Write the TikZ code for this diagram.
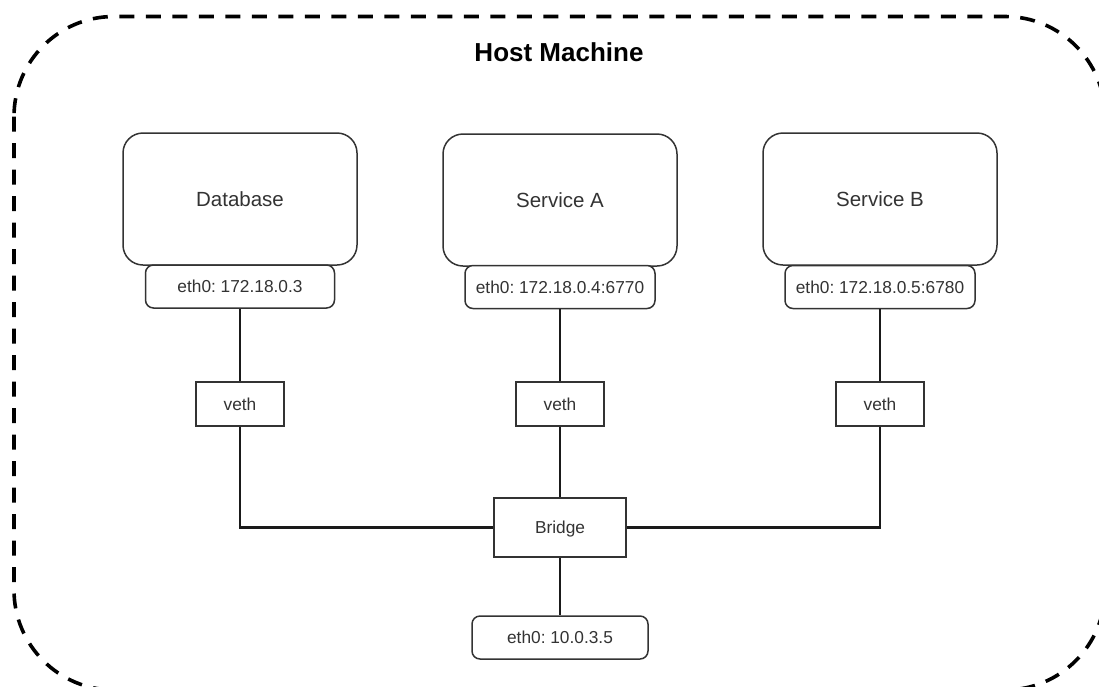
\documentclass[tikz,border=0pt]{standalone}
\usepackage{fontspec}
\setmainfont{Liberation Sans}
\frenchspacing
\definecolor{edge}{HTML}{333333}
\definecolor{ink}{HTML}{333333}
\definecolor{wire}{HTML}{1A1A1A}
\begin{document}
\begin{tikzpicture}[x=1pt,y=-1pt,
  box/.style={draw=edge, line width=1.5pt, fill=white, inner sep=0pt, text=ink,
    font=\fontsize{17.3}{20}\selectfont, text height=12.4pt, text depth=0pt},
  container/.style={box, rounded corners=20pt, minimum width=234pt, minimum height=132pt,
    font=\fontsize{20.5}{24}\selectfont, text height=14.7pt},
  iface/.style={box, rounded corners=8pt, minimum width=189pt, minimum height=43pt},
  vethbox/.style={box, minimum width=88pt, minimum height=44pt},
  bridgebox/.style={box, minimum width=132pt, minimum height=59pt},
  wireline/.style={draw=wire, line width=2.6pt},
  hostline/.style={draw=black, line width=3.6pt, dash pattern=on 15pt off 11.5pt, rounded corners=100pt}
]
\useasboundingbox (0,0) rectangle (1099,686);

% host boundary, partly cut off by the page edge
\begin{scope}
  \clip (0,0) rectangle (1099,686);
  \draw[hostline] (14,16.5) rectangle (1105,690);
\end{scope}
\node[anchor=base, font=\bfseries\fontsize{26}{30}\selectfont] (title) at (559,61.5) {Host Machine};

% containers
\node[container] (db) at (240,199) {Database};
\node[container] (sa) at (560,200) {Service A};
\node[container] (sb) at (880,199) {Service B};

% container interfaces
\node[iface] (dbeth) at (240,286.5) {eth0: 172.18.0.3};
\node[iface, minimum width=190pt] (saeth) at (560,287) {eth0: 172.18.0.4:6770};
\node[iface, minimum width=190pt] (sbeth) at (880,287) {eth0: 172.18.0.5:6780};

% veth pairs
\node[vethbox] (dbveth) at (240,404) {veth};
\node[vethbox] (saveth) at (560,404) {veth};
\node[vethbox] (sbveth) at (880,404) {veth};

% bridge and host interface
\node[bridgebox] (bridge) at (560,527.5) {Bridge};
\node[iface, minimum width=176pt] (heth) at (560,637.5) {eth0: 10.0.3.5};

% wiring
\draw[wireline] (dbeth.south) -- (dbveth.north);
\draw[wireline] (saeth.south) -- (saveth.north);
\draw[wireline] (sbeth.south) -- (sbveth.north);
\draw[wireline] (dbveth.south) |- (bridge.west);
\draw[wireline] (sbveth.south) |- (bridge.east);
\draw[wireline] (saveth.south) -- (bridge.north);
\draw[wireline] (bridge.south) -- (heth.north);
\end{tikzpicture}
\end{document}
